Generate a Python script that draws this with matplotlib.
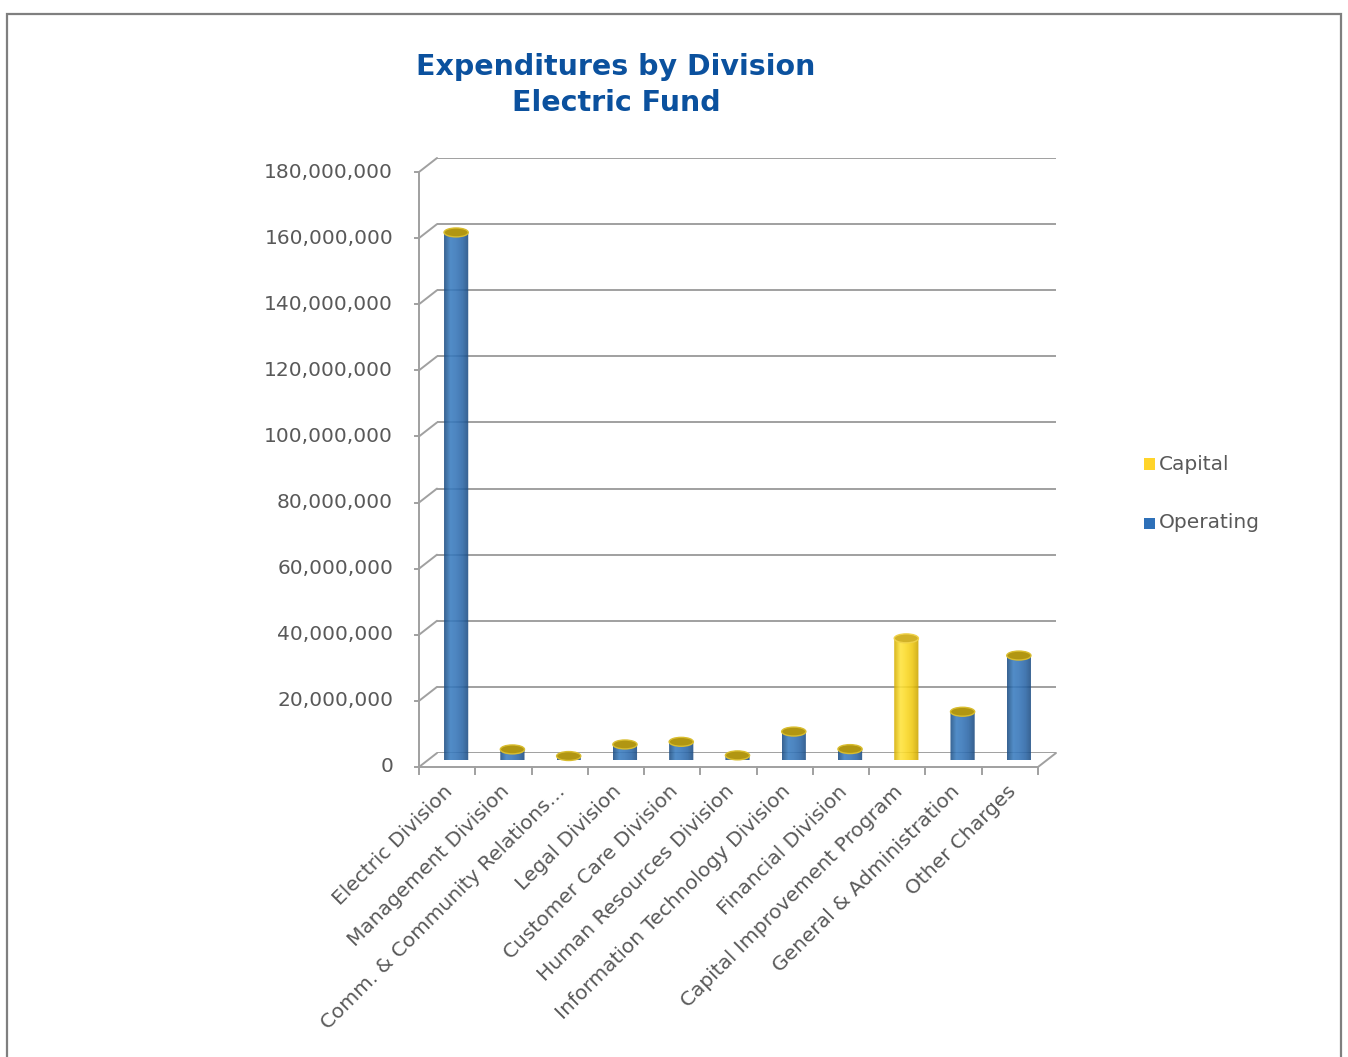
import numpy as np
import matplotlib
matplotlib.use("Agg")
import matplotlib.pyplot as plt
from matplotlib.patches import PathPatch, Ellipse, Rectangle, ConnectionPatch
from matplotlib.path import Path
from matplotlib.colors import LinearSegmentedColormap

categories = [
    "Electric Division",
    "Management Division",
    "Comm. & Community Relations…",
    "Legal Division",
    "Customer Care Division",
    "Human Resources Division",
    "Information Technology Division",
    "Financial Division",
    "Capital Improvement Program",
    "General & Administration",
    "Other Charges",
]
operating = [159.6e6, 3.2e6, 1.2e6, 4.7e6, 5.5e6, 1.4e6, 8.6e6, 3.3e6, 0, 14.6e6, 31.6e6]
capital = [0, 0, 0, 0, 0, 0, 0, 0, 36.8e6, 0, 0]
yticks = np.arange(0, 180e6 + 1, 20e6)

W, H = 1348, 1057
TXT = "#595959"
GRID = "#a0a0a0"

fig = plt.figure(figsize=(W / 100, H / 100), dpi=100)

# outer frame
fig.patches.append(Rectangle((7 / W, -0.05), 1334 / W, 1.05 - 14 / H, transform=fig.transFigure,
                             fill=False, edgecolor="#7f7f7f", linewidth=1.6))

fig.text(616 / W, 1 - 67 / H, "Expenditures by Division", ha="center", va="center",
         fontsize=20.5, fontweight="bold", color="#0b519e")
fig.text(616 / W, 1 - 103 / H, "Electric Fund", ha="center", va="center",
         fontsize=20.5, fontweight="bold", color="#0b519e")

# back wall, mid plane (bars) and front plane (axis); offsets in pixels, y downwards
def plane_axes(dx, dy):
    a = fig.add_axes([(437 + dx) / W, (H - 753 - dy) / H, 619 / W, 595 / H])
    a.set_xlim(0, len(categories))
    a.set_ylim(0, 180e6)
    a.axis("off")
    a.patch.set_alpha(0)
    return a

ax = plane_axes(0, 0)
axm = plane_axes(-9, 7)
axf = plane_axes(-18, 14)

n = len(categories)
for v in yticks:
    ax.plot([0, n], [v, v], color=GRID, lw=1.4, zorder=1, solid_capstyle="butt")
    fig.add_artist(ConnectionPatch((0, v), (0, v), coordsA=ax.transData, coordsB=axf.transData,
                                   color=GRID, lw=1.4))
    axf.plot([-0.07, 0], [v, v], color=GRID, lw=1.4, clip_on=False)
    axf.text(-0.46, v, f"{v:,.0f}", ha="right", va="center", fontsize=14.5, color=TXT, clip_on=False)
fig.add_artist(ConnectionPatch((n, 0), (n, 0), coordsA=ax.transData, coordsB=axf.transData,
                               color=GRID, lw=1.4))
axf.plot([0, 0], [0, 180e6], color=GRID, lw=1.4, clip_on=False)
axf.plot([0, n], [0, 0], color=GRID, lw=1.4, clip_on=False)
for i in range(n + 1):
    axf.plot([i, i], [0, -2.0e6], color=GRID, lw=1.4, clip_on=False)
for i, name in enumerate(categories):
    axf.text(i + 0.55, -6.5e6, name, rotation=45, rotation_mode="anchor", ha="right", va="center",
             fontsize=14.5, color=TXT, clip_on=False)

blue_cm = LinearSegmentedColormap.from_list("blue", ["#1c4d82", "#3a7dc0", "#3474b8", "#2a65a6", "#1b4a7e"])
gold_cm = LinearSegmentedColormap.from_list("gold", ["#d4ad00", "#ffe43c", "#fbd923", "#eec70f", "#c9a300"])

BAR_W = 0.43
ELL_H = 2.7e6
grad = np.linspace(0, 1, 64)[None, :]

def cylinder(a, xc, val, cmap, top_fc, top_ec):
    x0, x1 = xc - BAR_W / 2, xc + BAR_W / 2
    t = np.linspace(np.pi, 2 * np.pi, 40)
    lower = np.column_stack([xc + BAR_W / 2 * np.cos(t), ELL_H / 2 * np.sin(t)])
    verts = np.vstack([[[x0, val], [x0, 0]], lower, [[x1, val], [x0, val]]])
    codes = [Path.MOVETO] + [Path.LINETO] * (len(verts) - 2) + [Path.CLOSEPOLY]
    clip = PathPatch(Path(verts, codes), transform=a.transData, facecolor="none", edgecolor="none")
    a.add_patch(clip)
    im = a.imshow(grad, cmap=cmap, extent=(x0, x1, -ELL_H / 2, val), aspect="auto",
                  alpha=0.88, zorder=3, interpolation="bilinear")
    im.set_clip_path(clip)
    im.set_clip_on(True)
    a.add_patch(Ellipse((xc, val), BAR_W, ELL_H, facecolor=top_fc, edgecolor=top_ec, lw=1.0,
                        zorder=4, clip_on=False))

for i in range(n):
    if operating[i] > 0:
        cylinder(axm, i + 0.5, operating[i], blue_cm, "#b19612", "#d9bd2e")
    if capital[i] > 0:
        cylinder(axm, i + 0.5, capital[i], gold_cm, "#d2b228", "#f0d24a")
axm.set_xlim(0, n)
axm.set_ylim(0, 180e6)

# legend
for label, color, yc in [("Capital", "#ffd42a", 464), ("Operating", "#2e70b8", 523)]:
    fig.patches.append(Rectangle((1144 / W, 1 - (yc + 5.5) / H), 11 / W, 11 / H,
                                 transform=fig.transFigure, facecolor=color, edgecolor="none"))
    fig.text(1159 / W, 1 - yc / H, label, ha="left", va="center", fontsize=14.5, color=TXT)

fig.savefig("out.png", dpi=100, facecolor="white")
